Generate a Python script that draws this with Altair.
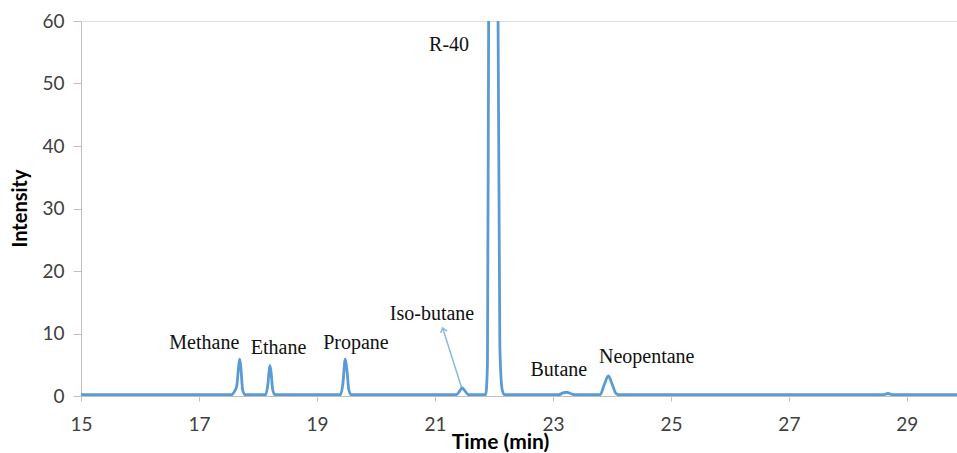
import altair as alt
import pandas as pd

# chromatogram trace
time_min = [15.0, 17.55, 17.60, 17.64, 17.67, 17.69, 17.71, 17.74, 17.78,
            18.13, 18.17, 18.20, 18.22, 18.25, 18.29,
            19.40, 19.44, 19.48, 19.51, 19.54, 19.58,
            21.36, 21.42, 21.46, 21.51, 21.57,
            21.86, 21.89, 21.91, 21.93, 21.99, 22.05, 22.07, 22.10, 22.14, 22.18,
            23.10, 23.17, 23.23, 23.30, 23.36,
            23.80, 23.87, 23.94, 24.00, 24.07, 24.12,
            28.60, 28.68, 28.76, 29.85]
intensity = [0.2, 0.2, 0.7, 1.6, 4.5, 5.9, 4.5, 1.0, 0.2,
             0.2, 2.0, 4.9, 4.0, 1.0, 0.2,
             0.2, 2.0, 5.9, 4.0, 1.0, 0.2,
             0.2, 0.8, 1.3, 0.8, 0.2,
             0.2, 5.0, 60.0, 120.0, 160.0, 120.0, 60.0, 8.0, 1.0, 0.2,
             0.2, 0.5, 0.6, 0.4, 0.2,
             0.2, 1.8, 3.2, 2.0, 0.4, 0.2,
             0.2, 0.4, 0.2, 0.2]

# peak labels
label_text = ["Methane", "Ethane", "Propane", "Iso-butane", "R-40", "Butane", "Neopentane"]
label_x = [17.09, 18.35, 19.66, 20.95, 21.24, 23.10, 24.59]
label_y = [8.5, 7.7, 8.5, 13.1, 56.2, 4.2, 6.2]

# arrow for Iso-butane (tail -> tip)
arrow_x = [21.45, 21.13]
arrow_y = [1.4, 10.9]

x_ticks = [15, 17, 19, 21, 23, 25, 27, 29]
y_ticks = [0, 10, 20, 30, 40, 50, 60]

trace = pd.DataFrame({"t": time_min, "i": intensity})
labels = pd.DataFrame({"name": label_text, "x": label_x, "y": label_y})
arrow = pd.DataFrame({"x": [arrow_x[0]], "y": [arrow_y[0]], "x2": [arrow_x[1]], "y2": [arrow_y[1]]})
head = pd.DataFrame({"x": [arrow_x[1]], "y": [arrow_y[1]]})

xscale = alt.Scale(domain=[15, 29.85], nice=False, zero=False)
yscale = alt.Scale(domain=[0, 60], nice=False)

line = alt.Chart(trace).mark_line(color="#5B9BD5", strokeWidth=2.8, clip=True,
                                  interpolate="monotone").encode(
    x=alt.X("t:Q", scale=xscale,
            axis=alt.Axis(title="Time (min)", values=x_ticks, format="d", grid=False,
                          domainColor="#BFBFBF", tickColor="#BFBFBF", tickSize=5,
                          labelFont="Lato", labelFontSize=19, labelColor="#404040",
                          labelPadding=14, labelFlush=False,
                          titleFont="Lato", titleFontSize=21,
                          titleFontWeight="bold", titleColor="#000000",
                          titleX=419, titleY=46, titleBaseline="middle")),
    y=alt.Y("i:Q", scale=yscale,
            axis=alt.Axis(title="Intensity", values=y_ticks, grid=False,
                          domainColor="#BFBFBF", tickColor="#BFBFBF", tickSize=8,
                          labelFont="Lato", labelFontSize=19, labelColor="#404040",
                          labelPadding=9, titleFont="Lato", titleFontSize=20,
                          titleFontWeight="bold", titleColor="#000000",
                          titleX=-61, titleY=187, titleBaseline="middle")),
)

text = alt.Chart(labels).mark_text(font="Liberation Serif", fontSize=20, color="#111111",
                                   align="center", baseline="middle").encode(
    x=alt.X("x:Q", scale=xscale), y=alt.Y("y:Q", scale=yscale), text="name:N")

rule = alt.Chart(arrow).mark_rule(color="#8DB4E2", strokeWidth=1.5).encode(
    x=alt.X("x:Q", scale=xscale), y=alt.Y("y:Q", scale=yscale),
    x2="x2:Q", y2="y2:Q")

arrowhead = alt.Chart(head).mark_point(shape="M -0.6 0.8 L 0 0 L 0.6 0.8", filled=False,
                                       color="#8DB4E2", strokeWidth=1.5, size=120,
                                       angle=343, opacity=1).encode(
    x=alt.X("x:Q", scale=xscale), y=alt.Y("y:Q", scale=yscale))

chart = alt.layer(line, rule, arrowhead, text).properties(
    width=876, height=375,
    autosize=alt.AutoSizeParams(type="none"),
    padding={"left": 81, "top": 21, "right": 0, "bottom": 57},
).configure_view(stroke=None).configure(background="white")

chart.save("out.html", embed_options={"renderer": "svg", "actions": False})
